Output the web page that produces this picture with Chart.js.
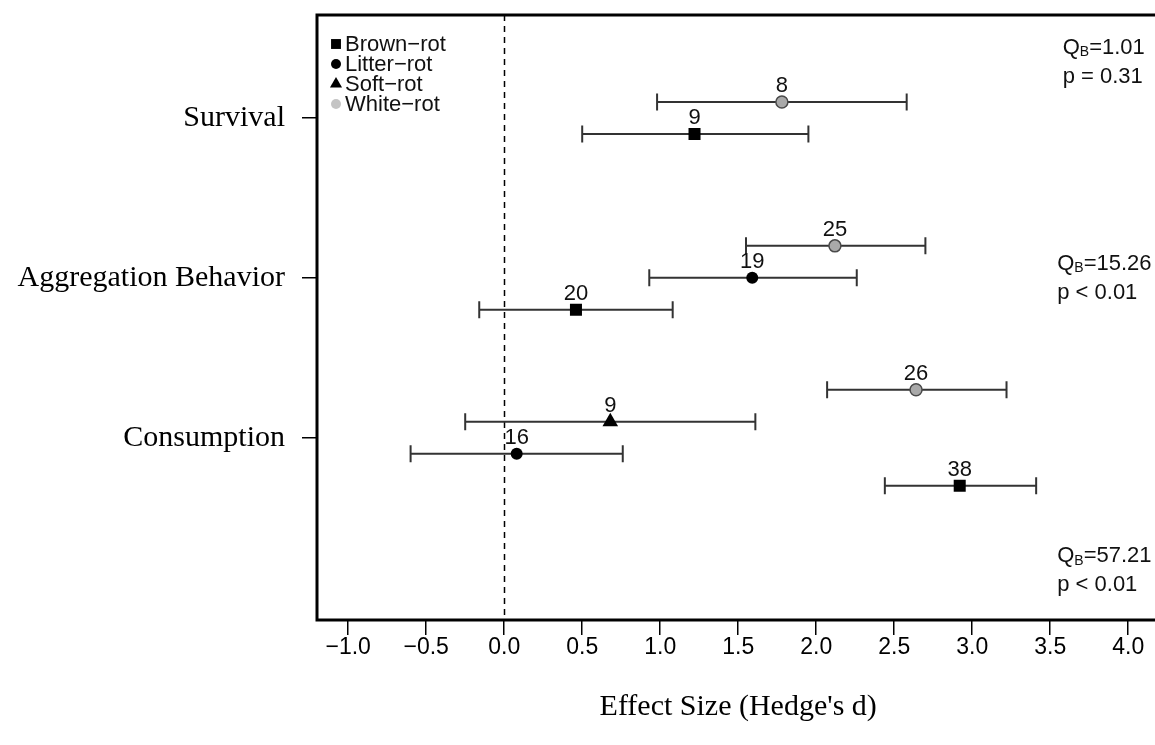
<!DOCTYPE html>
<html><head><meta charset="utf-8">
<script src="https://cdn.jsdelivr.net/npm/chart.js@4"></script>
<style>html,body{margin:0;padding:0;overflow:hidden;background:#fff;}canvas{display:block;}</style>
</head><body>
<canvas id="c" width="1170" height="745"></canvas>
<script>
// ---- data ----
const categories = ['Survival', 'Aggregation Behavior', 'Consumption'];
const xTickValues = [-1.0, -0.5, 0.0, 0.5, 1.0, 1.5, 2.0, 2.5, 3.0, 3.5, 4.0];
const seriesNames = ['Brown−rot', 'Litter−rot', 'Soft−rot', 'White−rot'];

const brownCats = ['Survival', 'Aggregation Behavior', 'Consumption'];
const brownEst  = [1.22, 0.46, 2.92];
const brownLo   = [0.50, -0.16, 2.44];
const brownHi   = [1.95, 1.08, 3.41];
const brownN    = [9, 20, 38];

const litterCats = ['Aggregation Behavior', 'Consumption'];
const litterEst  = [1.59, 0.08];
const litterLo   = [0.93, -0.60];
const litterHi   = [2.26, 0.76];
const litterN    = [19, 16];

const softCats = ['Consumption'];
const softEst  = [0.68];
const softLo   = [-0.25];
const softHi   = [1.61];
const softN    = [9];

const whiteCats = ['Survival', 'Aggregation Behavior', 'Consumption'];
const whiteEst  = [1.78, 2.12, 2.64];
const whiteLo   = [0.98, 1.55, 2.07];
const whiteHi   = [2.58, 2.70, 3.22];
const whiteN    = [8, 25, 26];

const qbValues = ['1.01', '15.26', '57.21'];
const pTexts   = ['p = 0.31', 'p < 0.01', 'p < 0.01'];

// ---- layout helpers ----
const SANS = '"Liberation Sans", Arial, sans-serif';
const SERIF = '"Liberation Serif", "Times New Roman", serif';
const catPos = c => (categories.length - 1 - categories.indexOf(c)) * 5;
const stackOrder = ['White−rot', 'Soft−rot', 'Litter−rot', 'Brown−rot'];
const catsBySeries = {
  'Brown−rot': brownCats, 'Litter−rot': litterCats, 'Soft−rot': softCats, 'White−rot': whiteCats
};
function yFor(series, cat) {
  const present = stackOrder.filter(s => catsBySeries[s].includes(cat));
  const k = present.length, i = present.indexOf(series);
  return catPos(cat) + (k - 1) / 2 - i;
}
function pts(series, cats, est) {
  return cats.map((c, i) => ({ x: est[i], y: yFor(series, c) }));
}

const datasets = [
  { label: seriesNames[0], data: pts(seriesNames[0], brownCats, brownEst), lo: brownLo, hi: brownHi, n: brownN,
    pointStyle: 'rect', pointRadius: 8.5, backgroundColor: '#000', borderColor: '#000', borderWidth: 0, legendR: 7 },
  { label: seriesNames[1], data: pts(seriesNames[1], litterCats, litterEst), lo: litterLo, hi: litterHi, n: litterN,
    pointStyle: 'circle', pointRadius: 6, backgroundColor: '#000', borderColor: '#000', borderWidth: 0, legendR: 5 },
  { label: seriesNames[2], data: pts(seriesNames[2], softCats, softEst), lo: softLo, hi: softHi, n: softN,
    pointStyle: 'triangle', pointRadius: 9, backgroundColor: '#000', borderColor: '#000', borderWidth: 0, legendR: 7 },
  { label: seriesNames[3], data: pts(seriesNames[3], whiteCats, whiteEst), lo: whiteLo, hi: whiteHi, n: whiteN,
    pointStyle: 'circle', pointRadius: 6, backgroundColor: '#a9a9a9', borderColor: '#4a4a4a', borderWidth: 1.5,
    legendR: 5, legendFill: '#c4c4c4' }
];

const annot = {
  id: 'annot',
  beforeDatasetsDraw(chart) {
    const { ctx, chartArea: a, scales: { x, y } } = chart;
    ctx.save();
    // zero reference line
    ctx.strokeStyle = '#000'; ctx.lineWidth = 1.5; ctx.setLineDash([6, 5]);
    const x0 = Math.round(x.getPixelForValue(0)) + 0.5;
    ctx.beginPath(); ctx.moveTo(x0, a.top); ctx.lineTo(x0, a.bottom); ctx.stroke();
    ctx.setLineDash([]);
    // error bars
    ctx.strokeStyle = '#333'; ctx.lineWidth = 2;
    chart.data.datasets.forEach(ds => {
      ds.data.forEach((p, i) => {
        const py = y.getPixelForValue(p.y);
        const l = x.getPixelForValue(ds.lo[i]), h = x.getPixelForValue(ds.hi[i]);
        ctx.beginPath();
        ctx.moveTo(l, py); ctx.lineTo(h, py);
        ctx.moveTo(l, py - 8.5); ctx.lineTo(l, py + 8.5);
        ctx.moveTo(h, py - 8.5); ctx.lineTo(h, py + 8.5);
        ctx.stroke();
      });
    });
    ctx.restore();
  },
  afterDatasetsDraw(chart) {
    const { ctx, chartArea: a, scales: { x, y } } = chart;
    ctx.save();
    // n labels
    ctx.fillStyle = '#111'; ctx.font = '22px ' + SANS; ctx.textAlign = 'center'; ctx.textBaseline = 'middle';
    chart.data.datasets.forEach(ds => {
      ds.data.forEach((p, i) => {
        ctx.fillText(String(ds.n[i]), x.getPixelForValue(p.x), y.getPixelForValue(p.y) - 16);
      });
    });
    // legend
    ctx.textAlign = 'left';
    chart.data.datasets.forEach((ds, i) => {
      const cy = a.top + 29 + i * 20, cx = a.left + 19;
      ctx.fillStyle = ds.legendFill || '#000';
      ctx.beginPath();
      if (ds.pointStyle === 'circle') { ctx.arc(cx, cy, ds.legendR, 0, Math.PI * 2); }
      else if (ds.pointStyle === 'rect') { const s = ds.legendR * Math.SQRT1_2; ctx.rect(cx - s, cy - s, 2 * s, 2 * s); }
      else { const r = ds.legendR; ctx.moveTo(cx, cy - r); ctx.lineTo(cx + r * 0.866, cy + r / 2); ctx.lineTo(cx - r * 0.866, cy + r / 2); ctx.closePath(); }
      ctx.fill();
      ctx.fillStyle = '#111';
      ctx.fillText(ds.label, cx + 9, cy + 1);
    });
    // heterogeneity stats
    const statY = [12.2, 5.45, -3.7];
    const statX = [3.58, 3.545, 3.545];
    qbValues.forEach((q, i) => {
      const sx = x.getPixelForValue(statX[i]);
      const ty = y.getPixelForValue(statY[i]);
      ctx.fillStyle = '#111'; ctx.textBaseline = 'middle';
      ctx.font = '22px ' + SANS;
      ctx.fillText('Q', sx, ty);
      let w = ctx.measureText('Q').width;
      ctx.font = '14px ' + SANS;
      ctx.fillText('B', sx + w, ty + 5);
      w += ctx.measureText('B').width;
      ctx.font = '22px ' + SANS;
      ctx.fillText('=' + q, sx + w, ty);
      ctx.fillText(pTexts[i], sx, ty + 29);
    });
    ctx.restore();
  },
  afterDraw(chart) {
    const { ctx, chartArea: a } = chart;
    ctx.save();
    ctx.strokeStyle = '#000'; ctx.lineWidth = 3;
    ctx.strokeRect(a.left, a.top, a.right - a.left, a.bottom - a.top);
    ctx.restore();
  }
};

new Chart(document.getElementById('c'), {
  type: 'scatter',
  data: { datasets },
  options: {
    responsive: false, animation: false,
    layout: { padding: { top: 15, right: 10.6, left: 0, bottom: 0 } },
    plugins: { legend: { display: false }, tooltip: { enabled: false } },
    scales: {
      x: {
        type: 'linear', min: -1.2, max: 4.2,
        afterBuildTicks: s => { s.ticks = xTickValues.map(v => ({ value: v })); },
        afterFit: s => { s.height = 125; s.paddingLeft = 0; s.paddingRight = 0; },
        ticks: { autoSkip: false, maxRotation: 0, padding: -1, color: '#000',
          font: { family: SANS, size: 23 },
          callback: v => (v < 0 ? '−' : '') + Math.abs(v).toFixed(1) },
        grid: { drawOnChartArea: false, drawTicks: true, tickLength: 15, color: '#000', lineWidth: 1.5 },
        border: { display: false },
        title: { display: true, text: "Effect Size (Hedge's d)", color: '#000',
          font: { family: SERIF, size: 30 }, padding: { top: 0, bottom: 20 } }
      },
      y: {
        type: 'linear', min: -5.70, max: 13.22,
        afterBuildTicks: s => { s.ticks = categories.map(c => ({ value: catPos(c) })); },
        afterFit: s => { s.width = 317; s.paddingTop = 0; s.paddingBottom = 0; },
        ticks: { autoSkip: false, padding: 17, color: '#000', font: { family: SERIF, size: 30 },
          callback: v => categories.find(c => catPos(c) === v) },
        grid: { drawOnChartArea: false, drawTicks: true, tickLength: 15, color: '#000', lineWidth: 1.5 },
        border: { display: false }
      }
    }
  },
  plugins: [annot]
});
</script>
</body></html>
